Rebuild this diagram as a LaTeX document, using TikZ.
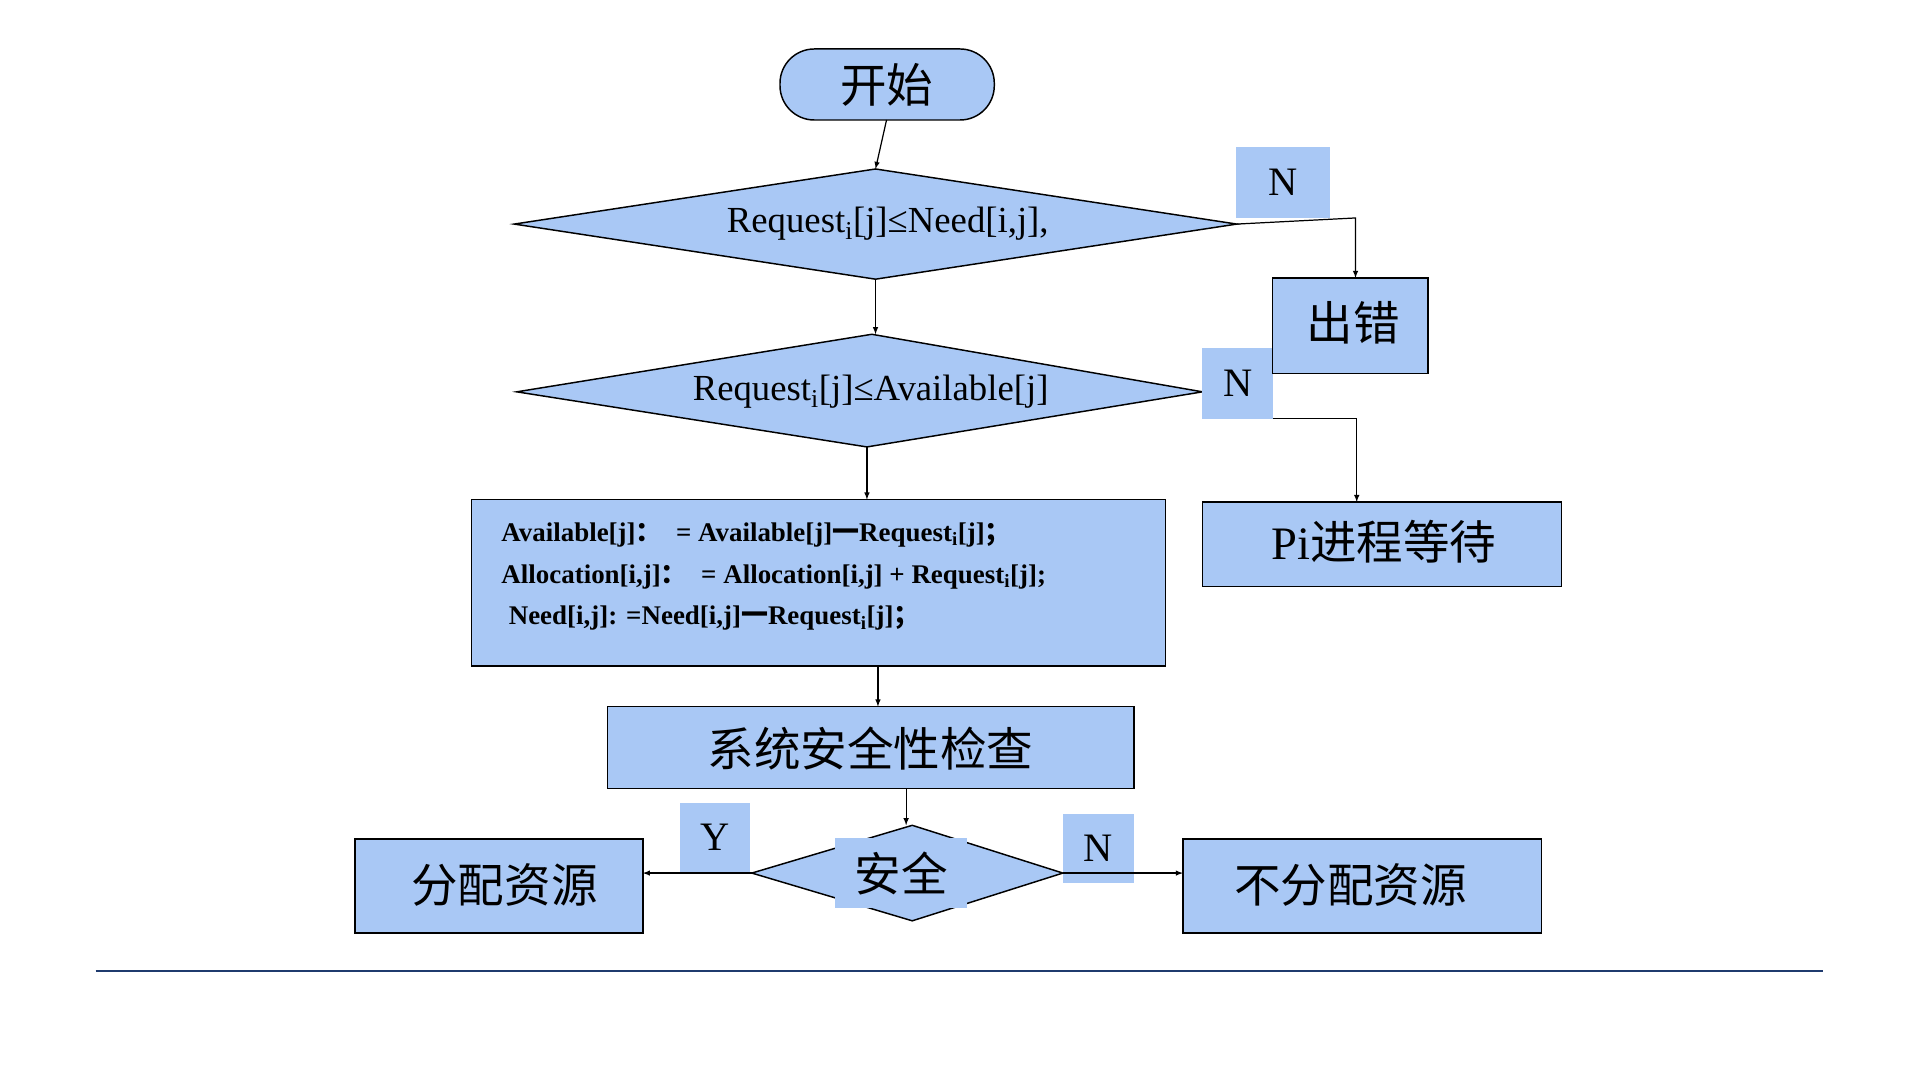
\documentclass[tikz,border=0pt]{standalone}
\usepackage{fontspec}
\setmainfont{Liberation Serif}
\newfontfamily\cjk{Noto Sans CJK SC}
\definecolor{fl}{HTML}{A9C8F5}
\definecolor{ln}{HTML}{1F3B6E}
\begin{document}
\begin{tikzpicture}[x=1pt,y=-1pt,
  box/.style={draw=black,fill=fl,line width=1.2pt},
  lab/.style={fill=fl,inner sep=0pt},
  arr/.style={-latex,line width=1pt},
  big/.style={font=\cjk\fontsize{38}{40}\selectfont},
  lat/.style={font=\fontsize{33}{36}\selectfont}]
\useasboundingbox (0,0) rectangle (1568,882);
\fill[white] (0,0) rectangle (1568,882);
% start
\draw[box,rounded corners=28pt] (637,40) rectangle (812,98);
\node[big] (start) at (724,69) {开始};
% diamond 1
\draw[box] (420,183)--(715,138)--(1010,183)--(715,228)--cycle;
\coordinate (d1t) at (715,138); \coordinate (d1b) at (715,228); \coordinate (d1r) at (1010,183);
\node[font=\fontsize{30}{32}\selectfont] (d1) at (725,183) {Request\textsubscript{i}[j]≤Need[i,j],};
% diamond 2
\draw[box] (422,320)--(712,273)--(982,320)--(708,365)--cycle;
\coordinate (d2t) at (715,273); \coordinate (d2b) at (708,365); \coordinate (d2r) at (1040,342);
\node[font=\fontsize{30}{32}\selectfont] (d2) at (711,320) {Request\textsubscript{i}[j]≤Available[j]};
% N labels
\node[lab,minimum width=77pt,minimum height=58pt,lat] (n1) at (1048,149) {N};
\node[lab,minimum width=58pt,minimum height=58pt,lat] (n2) at (1011,313) {N};
% error
\draw[box] (1039,227) rectangle (1166,305);
\node[big] (err) at (1105,264) {出错};
\coordinate (errt) at (1107,227);
\draw[box] (982,410) rectangle (1275,479);
\node[font=\fontsize{38}{40}\selectfont] (wait) at (1130,442) {Pi{\cjk 进程等待}};
\coordinate (waitt) at (1108,410);
% formula box
\draw[box] (385,408) rectangle (952,544);
\node[anchor=west,font=\bfseries\fontsize{22}{24}\selectfont] (f1) at (406,437) {Available[j]{\cjk ：}\ \ = Available[j]{\cjk 一}Request\textsubscript{i}[j]{\cjk ；}};
\node[anchor=west,font=\bfseries\fontsize{22}{24}\selectfont] (f2) at (406,471) {Allocation[i,j]{\cjk ：}\ \ = Allocation[i,j] + Request\textsubscript{i}[j];};
\node[anchor=west,font=\bfseries\fontsize{22}{24}\selectfont] (f3) at (412,505) {Need[i,j]: =Need[i,j]{\cjk 一}Request\textsubscript{i}[j]{\cjk ；}};
\coordinate (fbt) at (708,408); \coordinate (fbb) at (717,544);
% check
\draw[box] (496,577) rectangle (926,644);
\node[big] (chk) at (711,611) {系统安全性检查};
\coordinate (chkt) at (717,577); \coordinate (chkb) at (740,644);
% diamond 3
\draw[box] (614,713)--(745,674)--(868,713)--(745,752)--cycle;
\coordinate (d3t) at (740,674); \coordinate (d3l) at (614,713); \coordinate (d3r) at (868,713);
\node[lab,minimum width=108pt,minimum height=57pt,big] (safe) at (736,713) {安全};
\node[lab,minimum width=57pt,minimum height=57pt,lat] (y) at (584,684) {Y};
\node[lab,minimum width=58pt,minimum height=57pt,lat] (n3) at (897,693) {N};
% results
\draw[box] (290,685) rectangle (525,762);
\node[big] (alloc) at (412,723) {分配资源};
\coordinate (allocr) at (525,713);
\draw[box] (966,685) rectangle (1259,762);
\node[big] (noal) at (1103,723) {不分配资源};
\coordinate (noall) at (966,713);
% connectors
\draw[arr] (start.south |- 0,98) -- (d1t);
\draw[arr] (d1b) -- (d2t);
\draw[arr] (d2b) -- (fbt);
\draw[arr] (fbb) -- (chkt);
\draw[arr] (chkb) -- (d3t);
\draw[arr] (d3l) -- (allocr);
\draw[arr] (d3r) -- (noall);
\draw[arr] (d1r) -- (1107,178) -- (errt);
\draw[arr] (d2r) -- (1108,342) -- (waitt);
% bottom rule
\draw[ln,line width=1.2pt] (78,793) -- (1489,793);
\end{tikzpicture}
\end{document}
